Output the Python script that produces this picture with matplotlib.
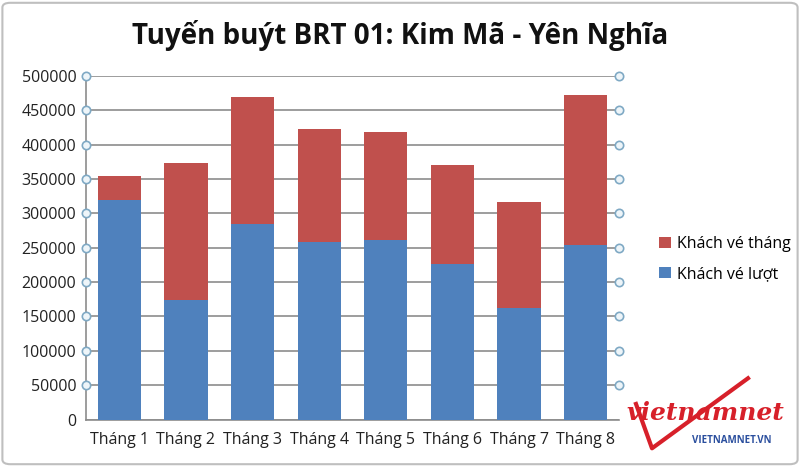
import matplotlib.pyplot as plt
from matplotlib.patches import FancyBboxPatch

months = ['Tháng 1', 'Tháng 2', 'Tháng 3', 'Tháng 4', 'Tháng 5', 'Tháng 6', 'Tháng 7', 'Tháng 8']
ve_luot = [319000, 174000, 285000, 259000, 261000, 226000, 163000, 254000]
ve_thang = [35000, 200000, 185000, 164000, 158000, 144000, 154000, 218000]
yticks = [0, 50000, 100000, 150000, 200000, 250000, 300000, 350000, 400000, 450000, 500000]

plt.rcParams['font.family'] = ['Open Sans', 'DejaVu Sans']

fig = plt.figure(figsize=(8, 4.67), dpi=100)
ax = fig.add_axes([86 / 800, 1 - 419.5 / 467, 533 / 800, 343.5 / 467])

x = range(len(months))
b1 = ax.bar(x, ve_luot, width=0.65, color='#4F81BD', zorder=3, label='Khách vé lượt')
b2 = ax.bar(x, ve_thang, width=0.65, bottom=ve_luot, color='#C0504D', zorder=3, label='Khách vé tháng')

ax.set_xlim(-0.5, len(months) - 0.5)
ax.set_ylim(0, 500000)
ax.set_yticks(yticks)
ax.set_yticklabels([str(v) for v in yticks], fontsize=11.5, color='#222222')
ax.set_xticks(list(x))
ax.set_xticklabels(months, fontsize=11.5, color='#222222')
ax.tick_params(axis='both', length=0, pad=7)
ax.tick_params(axis='x', pad=9)
ax.yaxis.grid(True, color='#8c8c8c', linewidth=1.2, zorder=0)

for side in ['top', 'right']:
    ax.spines[side].set_visible(False)
for side in ['left', 'bottom']:
    ax.spines[side].set_color('#8c8c8c')
    ax.spines[side].set_linewidth(1.2)

# circle markers at the tick positions on both sides
for xpos in [0, 1]:
    ax.plot([xpos] * (len(yticks) - 1), yticks[1:], 'o', transform=ax.get_yaxis_transform(),
            markersize=6, markerfacecolor='#eef5f9', markeredgecolor='#7fa9c4',
            markeredgewidth=1.2, clip_on=False, zorder=5)

fig.text(0.5, 0.925, 'Tuyến buýt BRT 01: Kim Mã - Yên Nghĩa', ha='center', va='center',
         fontsize=20, fontweight='bold', color='#111111')

leg = fig.legend(handles=[b2, b1], loc='center left', bbox_to_anchor=(645 / 800, 1 - 259 / 467),
                 frameon=False, fontsize=11.5, handlelength=0.7, handleheight=0.7,
                 handletextpad=0.4, labelspacing=0.9)

# logo
fig.add_artist(plt.Line2D([0.795, 0.815, 0.935], [0.135, 0.04, 0.19], color='#d7202a', linewidth=3))
fig.text(0.882, 0.115, 'vietnamnet', ha='center', va='center', fontsize=18,
         fontweight='bold', fontstyle='italic', family='DejaVu Serif', color='#d7202a')
fig.text(0.915, 0.057, 'VIETNAMNET.VN', ha='center', va='center', fontsize=7,
         fontweight='bold', color='#2b4f9e')

fig.add_artist(FancyBboxPatch((0.003, 0.006), 0.994, 0.988, boxstyle='round,pad=0,rounding_size=0.01',
                              transform=fig.transFigure, facecolor='none', edgecolor='#bfbfbf',
                              linewidth=1.5))

fig.savefig('out.png', dpi=100)
